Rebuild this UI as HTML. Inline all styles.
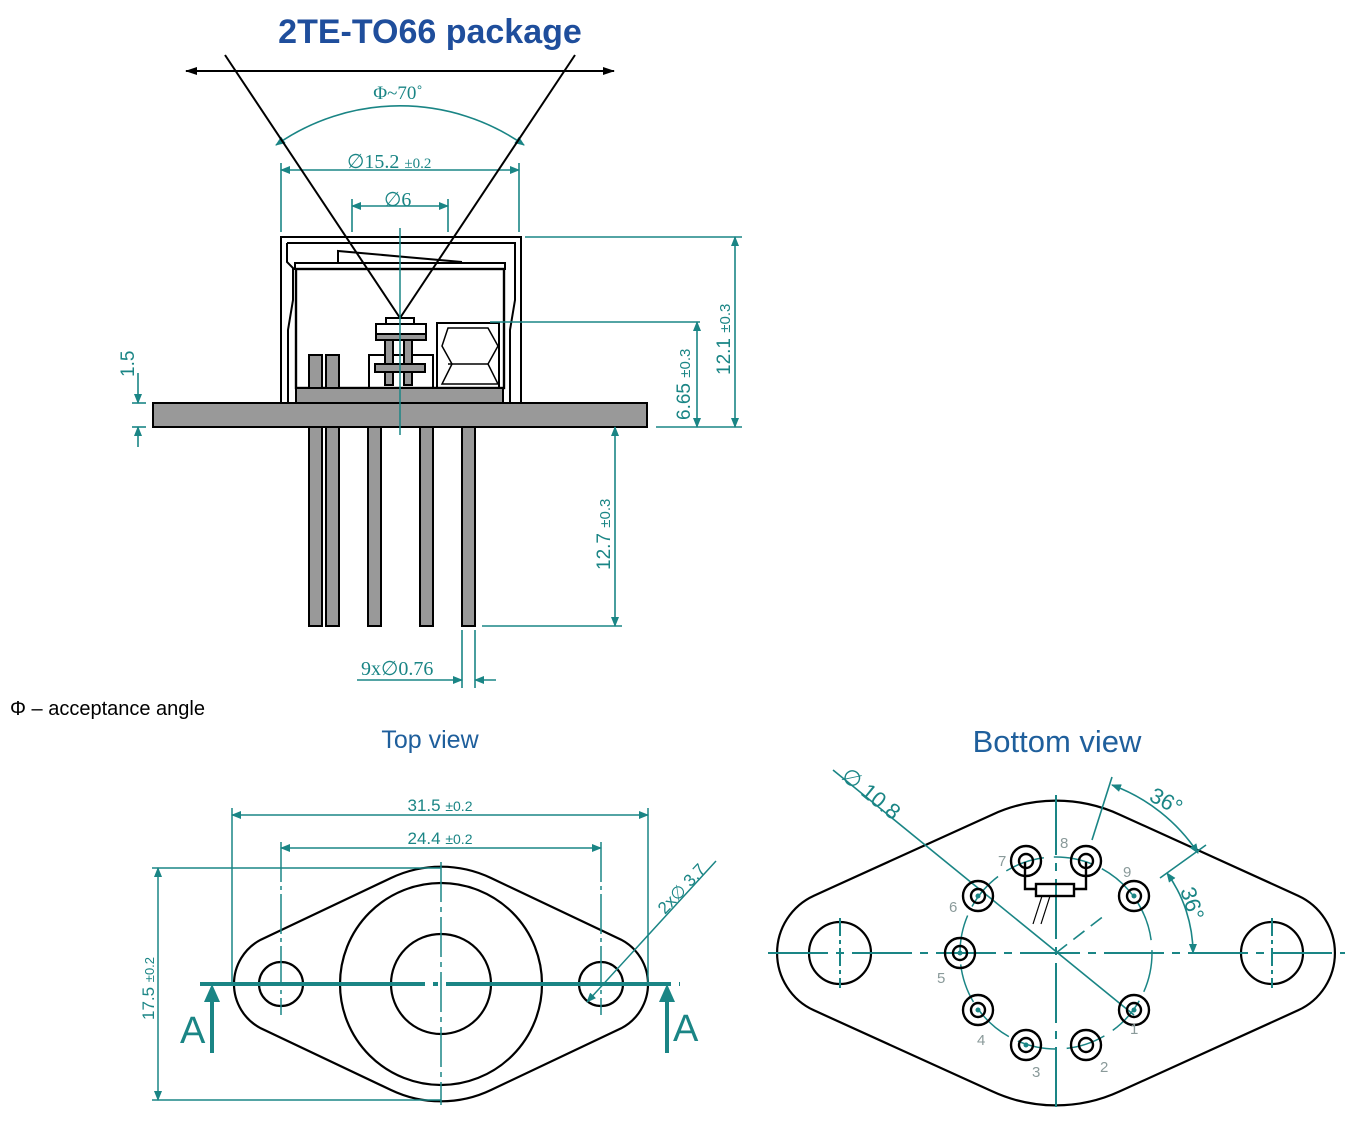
<!DOCTYPE html>
<html><head><meta charset="utf-8"><style>
html,body{margin:0;padding:0;background:#fff;}
svg{display:block;}
text{font-family:"Liberation Sans","DejaVu Sans",sans-serif;}
</style></head><body>
<svg width="1357" height="1129" viewBox="0 0 1357 1129" xmlns="http://www.w3.org/2000/svg">
<defs>
<marker id="ar" markerWidth="10" markerHeight="8" refX="9" refY="4" orient="auto-start-reverse" markerUnits="userSpaceOnUse"><path d="M0,0 L10,4 L0,8 Z" fill="#1a8585"/></marker>
<marker id="ak" markerWidth="12" markerHeight="8" refX="11" refY="4" orient="auto-start-reverse" markerUnits="userSpaceOnUse"><path d="M0,0 L12,4 L0,8 Z" fill="#000"/></marker>
</defs>
<text x="430" y="43" font-size="34" font-weight="bold" fill="#1f4e9c" text-anchor="middle">2TE-TO66 package</text>

<g stroke="#000" stroke-width="2" fill="none">
<line x1="186" y1="71" x2="614" y2="71" marker-start="url(#ak)" marker-end="url(#ak)"/>
</g>
<g stroke="#1a8585" stroke-width="1.6" fill="none">
<path d="M276,145 A216,216 0 0 1 524,145" marker-start="url(#ar)" marker-end="url(#ar)"/>
<line x1="281" y1="170" x2="519" y2="170" marker-start="url(#ar)" marker-end="url(#ar)"/>
<line x1="281" y1="163" x2="281" y2="232"/><line x1="519" y1="163" x2="519" y2="232"/>
<line x1="352" y1="206" x2="448" y2="206" marker-start="url(#ar)" marker-end="url(#ar)"/>
<line x1="352" y1="199" x2="352" y2="232"/><line x1="448" y1="199" x2="448" y2="232"/>
</g>
<g fill="#1a8585">
<text x="398" y="99" font-size="19" text-anchor="middle" style="font-family:'Liberation Serif',serif">Φ~70˚</text>
<text x="347" y="168" font-size="20" style="font-family:'Liberation Serif',serif">∅15.2 <tspan font-size="15">±0.2</tspan></text>
<text x="384" y="206" font-size="20" style="font-family:'Liberation Serif',serif">∅6</text>
</g>

<g stroke="#000" stroke-width="2" fill="none">
<rect x="281" y="237" width="240" height="166" fill="#fff"/>
<path d="M287,243 H515 V300 L510,330 V403"/>
<path d="M287,243 V262 L293,268 V300 L288,330 V403"/>
<rect x="295" y="263" width="210" height="6"/>
<polyline points="338,262 338,251 462,262"/>
<rect x="296" y="269" width="208" height="119" stroke-width="2.4"/>
<rect x="376" y="324" width="50" height="10"/>
<rect x="386" y="318" width="28" height="6"/>
<rect x="437" y="323" width="62" height="65"/>
<path d="M448,328 H488 L498,346 L488,364 L498,384 H442 L452,364 L442,346 Z" stroke-width="1.5"/>
<line x1="448" y1="364" x2="488" y2="364" stroke-width="1.5"/>
<rect x="369" y="355" width="64" height="33"/>
</g>
<g stroke="#000" stroke-width="2" fill="#999">
<rect x="376" y="334" width="50" height="6"/>
<rect x="385" y="340" width="8" height="45"/><rect x="404" y="340" width="8" height="45"/>
<rect x="375" y="364" width="50" height="8"/>
<rect x="309" y="355" width="13" height="33"/><rect x="326" y="355" width="13" height="33"/>
<rect x="296" y="388" width="207" height="15"/>
<rect x="153" y="403" width="494" height="24"/>
<rect x="309" y="427" width="13" height="199"/><rect x="326" y="427" width="13" height="199"/>
<rect x="368" y="427" width="13" height="199"/><rect x="420" y="427" width="13" height="199"/>
<rect x="462" y="427" width="13" height="199"/>
</g>
<g stroke="#000" stroke-width="2" fill="none">
<line x1="225" y1="55" x2="400" y2="318"/>
<line x1="575" y1="55" x2="400" y2="318"/>
</g>
<line x1="400" y1="228" x2="400" y2="435" stroke="#1a8585" stroke-width="1.5"/>

<g stroke="#1a8585" stroke-width="1.6" fill="none">
<line x1="525" y1="237" x2="742" y2="237"/><line x1="656" y1="427" x2="742" y2="427"/>
<line x1="735" y1="237" x2="735" y2="427" marker-start="url(#ar)" marker-end="url(#ar)"/>
<line x1="490" y1="322" x2="700" y2="322"/>
<line x1="697" y1="322" x2="697" y2="427" marker-start="url(#ar)" marker-end="url(#ar)"/>
<line x1="615" y1="427" x2="615" y2="626" marker-start="url(#ar)" marker-end="url(#ar)"/>
<line x1="482" y1="626" x2="622" y2="626"/>
<line x1="138" y1="373" x2="138" y2="403" marker-end="url(#ar)"/>
<line x1="138" y1="447" x2="138" y2="427" marker-end="url(#ar)"/>
<line x1="132" y1="403" x2="146" y2="403"/><line x1="132" y1="427" x2="146" y2="427"/>
<line x1="462" y1="630" x2="462" y2="688"/><line x1="475" y1="630" x2="475" y2="688"/>
<line x1="357" y1="680" x2="462" y2="680" marker-end="url(#ar)"/>
<line x1="496" y1="680" x2="475" y2="680" marker-end="url(#ar)"/>
</g>
<g fill="#1a8585" font-size="19">
<text transform="translate(730,375) rotate(-90)">12.1 <tspan font-size="15">±0.3</tspan></text>
<text transform="translate(690,420) rotate(-90)">6.65 <tspan font-size="15">±0.3</tspan></text>
<text transform="translate(610,570) rotate(-90)">12.7 <tspan font-size="15">±0.3</tspan></text>
<text transform="translate(134,377) rotate(-90)">1.5</text>
<text x="361" y="675" font-size="20" style="font-family:'Liberation Serif',serif">9x∅0.76</text>
</g>

<text x="10" y="715" font-size="20" fill="#000">Φ – acceptance angle</text>
<text x="430" y="748" font-size="25" fill="#1f5f9c" text-anchor="middle">Top view</text>
<text x="1057" y="752" font-size="31" fill="#1f5f9c" text-anchor="middle">Bottom view</text>

<g stroke="#000" stroke-width="2.2" fill="none">
<path d="M260.8,939.7 L391,878 A116,116 0 0 1 491,878 L621.2,939.7 A50,50 0 0 1 621.2,1028.3 L491,1090 A116,116 0 0 1 391,1090 L260.8,1028.3 A50,50 0 0 1 260.8,939.7 Z"/>
<circle cx="441" cy="984" r="101"/>
<circle cx="441" cy="984" r="50"/>
<circle cx="281" cy="984" r="22"/>
<circle cx="601" cy="984" r="22"/>
</g>
<g stroke="#1a8585" stroke-width="1.5" fill="none">
<line x1="232" y1="808" x2="232" y2="984"/><line x1="648" y1="808" x2="648" y2="984"/>
<line x1="232" y1="815" x2="648" y2="815" marker-start="url(#ar)" marker-end="url(#ar)"/>
<line x1="281" y1="842" x2="281" y2="1015" stroke-dasharray="40,4,4,4"/><line x1="601" y1="842" x2="601" y2="1015" stroke-dasharray="40,4,4,4"/>
<line x1="281" y1="848" x2="601" y2="848" marker-start="url(#ar)" marker-end="url(#ar)"/>
<line x1="152" y1="868" x2="441" y2="868"/><line x1="152" y1="1100" x2="441" y2="1100"/>
<line x1="158" y1="868" x2="158" y2="1100" marker-start="url(#ar)" marker-end="url(#ar)"/>
<line x1="441" y1="862" x2="441" y2="1105" stroke-dasharray="40,5,5,5"/>
<line x1="587" y1="1002" x2="716" y2="861" marker-start="url(#ar)"/>
</g>
<line x1="200" y1="984" x2="680" y2="984" stroke="#1a8585" stroke-width="4" stroke-dasharray="225,8,5,8"/>
<g stroke="#1a8585" stroke-width="4" fill="#1a8585">
<line x1="212" y1="1053" x2="212" y2="1000"/><path d="M204,1002 L212,984 L220,1002 Z" stroke="none"/>
<line x1="667" y1="1053" x2="667" y2="1000"/><path d="M659,1002 L667,984 L675,1002 Z" stroke="none"/>
</g>
<g fill="#1a8585">
<text x="180" y="1043" font-size="38">A</text>
<text x="673" y="1041" font-size="38">A</text>
<text x="440" y="811" font-size="17" text-anchor="middle">31.5 <tspan font-size="14">±0.2</tspan></text>
<text x="440" y="844" font-size="17" text-anchor="middle">24.4 <tspan font-size="14">±0.2</tspan></text>
<text transform="translate(154,1020) rotate(-90)" font-size="17">17.5 <tspan font-size="13">±0.2</tspan></text>
<text transform="translate(665,915) rotate(-47)" font-size="17">2x∅ 3.7</text>
</g>

<g stroke="#000" stroke-width="2.2" fill="none">
<path d="M813.9,895.7 L992.1,814.7 A152,152 0 0 1 1119.9,814.7 L1298.1,895.7 A63,63 0 0 1 1298.1,1010.3 L1119.9,1091.3 A152,152 0 0 1 992.1,1091.3 L813.9,1010.3 A63,63 0 0 1 813.9,895.7 Z"/>
<circle cx="840" cy="953" r="31"/>
<circle cx="1272" cy="953" r="31"/>
</g>
<g stroke="#1a8585" stroke-width="2" fill="none">
<line x1="768" y1="953" x2="1345" y2="953" stroke-dasharray="60,8,8,8"/>
<line x1="1056" y1="795" x2="1056" y2="1112" stroke-dasharray="60,8,8,8"/>
<line x1="840" y1="918" x2="840" y2="988" stroke-dasharray="18,4,4,4"/>
<line x1="1272" y1="918" x2="1272" y2="988" stroke-dasharray="18,4,4,4"/>
<circle cx="1056" cy="953" r="96" stroke-width="1.5" stroke-dasharray="40,10"/>
<line x1="833" y1="770" x2="1134" y2="1015" stroke-width="1.6"/>
<line x1="1112" y1="777" x2="1092" y2="840" stroke-width="1.6"/>
<line x1="1206" y1="845" x2="1160" y2="878" stroke-width="1.6"/>
<path d="M1112,785 A176,176 0 0 1 1198,853" stroke-width="1.6" marker-start="url(#ar)" marker-end="url(#ar)"/>
<path d="M1167,873 A138,138 0 0 1 1193,953" stroke-width="1.6" marker-start="url(#ar)" marker-end="url(#ar)"/>
<line x1="1056" y1="953" x2="1105" y2="915" stroke-width="1.6" stroke-dasharray="14,8"/>
</g>
<g stroke="#000" stroke-width="2.4" fill="none">
<g transform="translate(1134,1010)"><circle r="15"/><circle r="7"/></g>
<g transform="translate(1086,1045)"><circle r="15"/><circle r="7"/></g>
<g transform="translate(1026,1045)"><circle r="15"/><circle r="7"/></g>
<g transform="translate(978,1010)"><circle r="15"/><circle r="7"/></g>
<g transform="translate(960,953)"><circle r="15"/><circle r="7"/></g>
<g transform="translate(978,896)"><circle r="15"/><circle r="7"/></g>
<g transform="translate(1026,861)"><circle r="15"/><circle r="7"/></g>
<g transform="translate(1086,861)"><circle r="15"/><circle r="7"/></g>
<g transform="translate(1134,896)"><circle r="15"/><circle r="7"/></g>
<polyline points="1025,862 1025,889 1036,889"/>
<polyline points="1086,862 1086,889 1074,889"/>
<rect x="1036" y="884" width="38" height="12"/>
<line x1="1042" y1="896" x2="1033" y2="924" stroke-width="1.2"/>
<line x1="1050" y1="896" x2="1041" y2="924" stroke-width="1.2"/>
</g>
<g fill="#1a8585">
<circle cx="1134" cy="1010" r="2.5"/><circle cx="1026" cy="1045" r="2.5"/><circle cx="978" cy="1010" r="2.5"/>
<circle cx="960" cy="953" r="2.5"/><circle cx="978" cy="896" r="2.5"/><circle cx="1134" cy="896" r="2.5"/>
</g>
<g fill="#8a9a9a" font-size="15">
<text x="1130" y="1034">1</text><text x="1100" y="1072">2</text><text x="1032" y="1077">3</text>
<text x="977" y="1045">4</text><text x="937" y="983">5</text><text x="949" y="912">6</text>
<text x="998" y="866">7</text><text x="1060" y="848">8</text><text x="1123" y="877">9</text>
</g>
<g fill="#1a8585" font-size="22">
<text transform="translate(840,778) rotate(39)">∅ 10.8</text>
<text transform="translate(1148,800) rotate(28)">36°</text>
<text transform="translate(1180,890) rotate(72)">36°</text>
</g>
</svg>
</body></html>
